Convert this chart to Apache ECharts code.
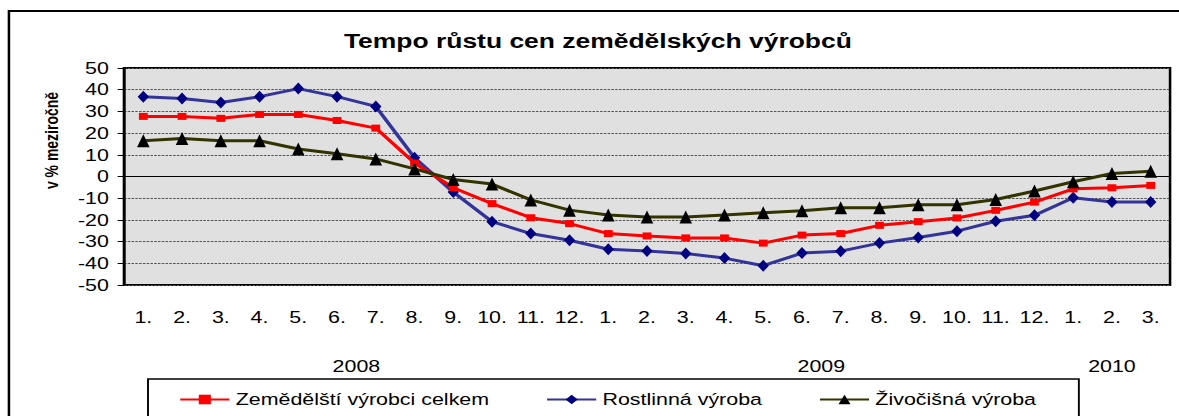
<!DOCTYPE html>
<html>
<head>
<meta charset="utf-8">
<script src="https://cdn.jsdelivr.net/npm/echarts@6/dist/echarts.min.js"></script>
<style>
  html, body { margin: 0; padding: 0; background: #fff; overflow: hidden; }
  /* original chart is a horizontally stretched picture, so stretch the same way */
  #main { width: 936px; height: 416px; transform: scaleX(1.25962); transform-origin: 0 0; }
</style>
</head>
<body>
<div id="main"></div>
<script>
// mesice 2008/1 .. 2010/3
var months = ['1.', '2.', '3.', '4.', '5.', '6.', '7.', '8.', '9.', '10.', '11.', '12.',
  '1.', '2.', '3.', '4.', '5.', '6.', '7.', '8.', '9.', '10.', '11.', '12.',
  '1.', '2.', '3.'];
var years = ['2008', '2009', '2010'];
var yearPos = [6, 18, 25.5]; // stred skupiny mesicu

var celkem = [27.7, 27.7, 26.8, 28.6, 28.6, 25.8, 22.3, 6.2, -5.2, -12.5, -19, -21.7,
  -26.3, -27.4, -28.3, -28.3, -30.7, -27, -26.3, -22.5, -20.8, -19.1, -15.6, -11.8,
  -5.7, -5.2, -4.1];
var rostlinna = [36.8, 35.9, 34.1, 36.8, 40.5, 36.8, 32.3, 8.6, -7.2, -20.8, -26.3, -29.4,
  -33.5, -34.3, -35.5, -37.6, -41.1, -35.3, -34.4, -30.7, -28.1, -25.2, -20.6, -17.9,
  -9.8, -11.8, -11.8];
var zivocisna = [16.5, 17.5, 16.5, 16.5, 12.7, 10.5, 8.1, 3.5, -1.4, -3.5, -10.8, -15.5,
  -17.7, -18.7, -18.7, -17.7, -16.7, -15.8, -14.4, -14.4, -13, -13, -10.6, -6.7,
  -2.4, 1.4, 2.4];

var chart = echarts.init(document.getElementById('main'), null, { renderer: 'svg' });

var option = {
  animation: false,
  backgroundColor: '#fff',
  textStyle: { fontFamily: 'Liberation Sans, Arial, sans-serif' },
  title: {
    text: 'Tempo růstu cen zemědělských výrobců',
    left: 268,
    top: 25,
    textStyle: { fontSize: 21, fontWeight: 'bold', color: '#000' }
  },
  graphic: [{
    type: 'rect',
    shape: { x: 7.1, y: 11, width: 1000, height: 420 },
    style: { fill: 'none', stroke: '#000', lineWidth: 2 },
    silent: true
  }],
  legend: {
    left: 117.5,
    top: 379,
    itemWidth: 39,
    itemHeight: 12,
    itemGap: 45,
    padding: [12, 34, 12, 24.6],
    borderColor: '#000',
    borderWidth: 1.5,
    textStyle: { fontSize: 17, color: '#000' },
    data: ['Zemědělští výrobci celkem', 'Rostlinná výroba', 'Živočišná výroba']
  },
  grid: {
    left: 98.4,
    right: 7.1,
    top: 68,
    bottom: 131,
    show: true,
    backgroundColor: '#e0e0e0',
    borderColor: '#000',
    borderWidth: 2
  },
  xAxis: [{
    type: 'category',
    data: months,
    boundaryGap: true,
    axisLine: { lineStyle: { color: '#000' } },
    axisTick: { show: false },
    axisLabel: { fontSize: 17, color: '#000', margin: 24, interval: 0 }
  }, {
    type: 'value',
    min: 0,
    max: 27,
    position: 'bottom',
    axisLine: { show: false },
    axisTick: { show: false },
    splitLine: { show: false },
    axisLabel: {
      fontSize: 17,
      color: '#000',
      margin: 73,
      customValues: yearPos,
      formatter: function (v) {
        var i = yearPos.indexOf(v);
        return i >= 0 ? years[i] : '';
      }
    }
  }],
  yAxis: {
    type: 'value',
    min: -50,
    max: 50,
    interval: 10,
    name: 'v % meziročně',
    nameLocation: 'middle',
    nameGap: 50,
    nameTextStyle: { fontSize: 14, fontWeight: 'bold', color: '#000', padding: [0, 0, 0, 72] },
    axisLine: { show: true, lineStyle: { color: '#000', width: 1.5 } },
    axisTick: { show: true, length: 5, lineStyle: { color: '#000' } },
    axisLabel: { fontSize: 17, color: '#000', margin: 12 },
    splitLine: { lineStyle: { color: '#555', type: [2, 1], width: 1 } }
  },
  series: [{
    name: 'Zemědělští výrobci celkem',
    type: 'line',
    data: celkem,
    symbol: 'rect',
    symbolSize: [7, 7],
    lineStyle: { color: '#ff0000', width: 3 },
    itemStyle: { color: '#ff0000' },
    z: 3
  }, {
    name: 'Rostlinná výroba',
    type: 'line',
    data: rostlinna,
    symbol: 'diamond',
    symbolSize: [9, 12],
    lineStyle: { color: '#333399', width: 3 },
    itemStyle: { color: '#000080' },
    z: 2
  }, {
    name: 'Živočišná výroba',
    type: 'line',
    data: zivocisna,
    symbol: 'triangle',
    symbolSize: [10, 13],
    lineStyle: { color: '#333300', width: 3 },
    itemStyle: { color: '#000' },
    z: 4
  }]
};

chart.setOption(option);
</script>
</body>
</html>
